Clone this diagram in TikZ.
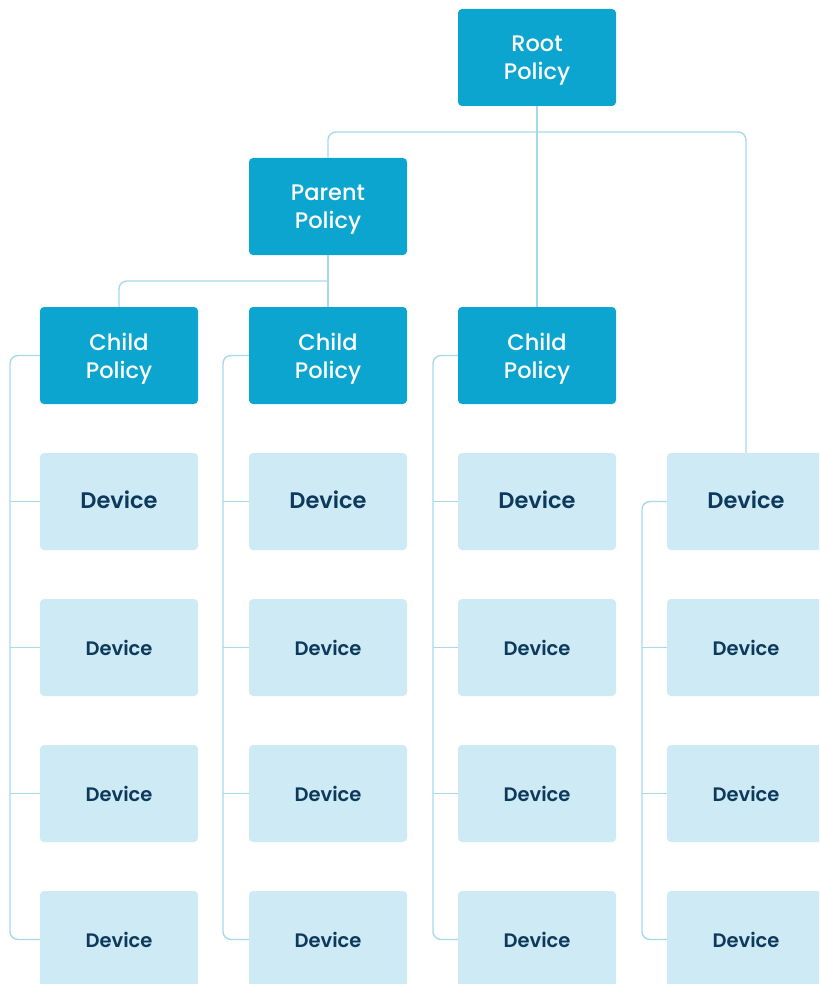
\documentclass[tikz,border=0pt]{standalone}
\usepackage{fontspec}
\setmainfont{Poppins}[BoldFont={* SemiBold}]
\newfontfamily\medfont{Poppins Medium}
\definecolor{dark}{HTML}{0CA5D0}
\definecolor{light}{HTML}{CDEAF5}
\definecolor{linec}{HTML}{A6DAEA}
\definecolor{txt}{HTML}{0D3A5C}
\tikzset{
  policy/.style={fill=dark, rounded corners=4pt, minimum width=158pt, minimum height=97pt, inner sep=0pt},
  policylab/.style={text=white, font=\fontsize{22.5}{28}\medfont, align=center, inner sep=0pt},
  devbig/.style={fill=light, rounded corners=4pt, minimum width=158pt, minimum height=97pt, inner sep=0pt, text=txt, font=\fontsize{19.5}{22}\selectfont\bfseries},
  devlab/.style={text=txt, font=\fontsize{22.5}{25}\selectfont\bfseries, inner sep=0pt},
  conn/.style={draw=linec, line width=1.4pt, rounded corners=8pt}
}
\begin{document}
\begin{tikzpicture}[x=1pt,y=-1pt]
\useasboundingbox (0,0) rectangle (819,984);
\clip (0,0) rectangle (819,984);
\coordinate (rj) at (537,132);
\coordinate (pj) at (328,281);
\coordinate (b1) at (10,939.5);
\coordinate (b2) at (223,939.5);
\coordinate (b3) at (433,939.5);
\coordinate (b4) at (642,939.5);
\node[policy] (root) at (537,57.5) {};
\node[policy] (parent) at (328,206.5) {};
\node[policy] (c1) at (119,355.5) {};
\node[policy] (c2) at (328,355.5) {};
\node[policy] (c3) at (537,355.5) {};
\node[policylab] (rootlab) at ([yshift=-3.5pt]root.center) {Root\\Policy};
\node[policylab] (parentlab) at ([yshift=-3.5pt]parent.center) {Parent\\Policy};
\foreach \n in {c1,c2,c3}{
  \node[policylab] (\n lab) at ([yshift=-3.5pt]\n.center) {Child\\Policy};
}
\foreach \c/\x in {1/119,2/328,3/537,4/746}{
  \node[devbig] (d\c1) at (\x,501.5) {};
  \node[devbig] (d\c2) at (\x,647.5) {Device};
  \node[devbig] (d\c3) at (\x,793.5) {Device};
  \node[devbig] (d\c4) at (\x,939.5) {Device};
  \node[devlab] (d\c1lab) at ([yshift=1.5pt]d\c1.center) {Device};
}
\draw[conn] (root.south) -- (c3.north);
\draw[conn] (parent.north) |- (rj) -| (d41.north);
\draw[conn] (parent.south) -- (c2.north);
\draw[conn] (pj) -| (c1.north);
\draw[conn] (c1.west) -| (b1) -- (d14.west);
\draw[conn] (c2.west) -| (b2) -- (d24.west);
\draw[conn] (c3.west) -| (b3) -- (d34.west);
\draw[conn] (d41.west) -| (b4) -- (d44.west);
\foreach \c/\b in {1/b1,2/b2,3/b3}{
  \draw[conn] (d\c1.west) -- (d\c1.west -| \b);
}
\foreach \c/\b in {1/b1,2/b2,3/b3,4/b4}{
  \draw[conn] (d\c2.west) -- (d\c2.west -| \b);
  \draw[conn] (d\c3.west) -- (d\c3.west -| \b);
}
\end{tikzpicture}
\end{document}
